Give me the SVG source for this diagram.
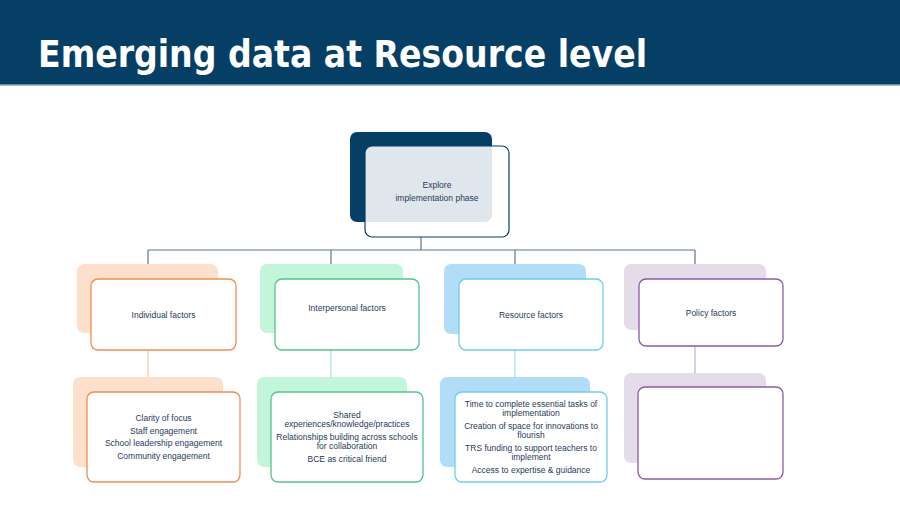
<svg xmlns="http://www.w3.org/2000/svg" width="900" height="505" viewBox="0 0 900 505">
<style>
.t{font-family:"Liberation Sans",Arial,sans-serif;font-size:8.5px;fill:#1f3b5a;text-anchor:middle}
.title{font-family:"DejaVu Sans Condensed","DejaVu Sans",sans-serif;font-stretch:condensed;font-weight:bold;font-size:37px;fill:#ffffff}
.front{fill:#ffffff;stroke-width:1.3}
.conn{stroke:#5a7893;stroke-width:1.2;fill:none}
</style>
<rect x="0" y="0" width="900" height="85" fill="#063f66"/>
<line x1="0" y1="85" x2="900" y2="85" stroke="#8aa6c0" stroke-width="1.5"/>
<text class="title" x="38" y="67" textLength="609" lengthAdjust="spacingAndGlyphs">Emerging data at Resource level</text>

<g id="connectors">
<path class="conn" d="M421 237 V250 M148 250 H695 M148 250 V265 M331 250 V265 M515 250 V265 M695 250 V265"/>
<line x1="148" y1="350" x2="148" y2="378" stroke="#f6c7a4" stroke-width="1.2"/>
<line x1="331" y1="350" x2="331" y2="378" stroke="#a6e8c8" stroke-width="1.2"/>
<line x1="515" y1="350" x2="515" y2="378" stroke="#a8def0" stroke-width="1.2"/>
<line x1="695" y1="346" x2="695" y2="374" stroke="#c4aed3" stroke-width="1.2"/>
</g>

<g id="root">
<rect x="350" y="132" width="142" height="90" rx="7" fill="#063f66"/>
<rect x="365" y="146" width="144" height="91" rx="7" fill="#ffffff" fill-opacity="0.88" stroke="#063f66" stroke-width="1.2"/>
<text class="t" x="437" y="188">Explore</text>
<text class="t" x="437" y="201">implementation phase</text>
</g>

<g id="individual">
<rect x="77" y="264" width="141" height="69" rx="7" fill="#fde0cb"/>
<rect class="front" x="91" y="279" width="145" height="71" rx="7" stroke="#f28c50"/>
<text class="t" x="163.5" y="318">Individual factors</text>
</g>

<g id="interpersonal">
<rect x="260" y="264" width="143" height="69" rx="7" fill="#c2f5da"/>
<rect class="front" x="275" y="279" width="144" height="71" rx="7" stroke="#52c48d"/>
<text class="t" x="347" y="311">Interpersonal factors</text>
</g>

<g id="resource">
<rect x="444" y="264" width="142" height="70" rx="7" fill="#b1ddf8"/>
<rect class="front" x="459" y="279" width="144" height="71" rx="7" stroke="#6bd0e6"/>
<text class="t" x="531" y="318">Resource factors</text>
</g>

<g id="policy">
<rect x="624" y="264" width="142" height="66" rx="7" fill="#e5dcea"/>
<rect class="front" x="639" y="279" width="144" height="67" rx="7" stroke="#8c5aa8"/>
<text class="t" x="711" y="316">Policy factors</text>
</g>

<g id="individual-detail">
<rect x="73" y="377" width="150" height="90" rx="7" fill="#fde0cb"/>
<rect class="front" x="87" y="392" width="153" height="90" rx="7" stroke="#f28c50"/>
<text class="t" x="163.5" y="421">Clarity of focus</text>
<text class="t" x="163.5" y="434">Staff engagement</text>
<text class="t" x="163.5" y="446">School leadership engagement</text>
<text class="t" x="163.5" y="459">Community engagement</text>
</g>

<g id="interpersonal-detail">
<rect x="257" y="377" width="150" height="90" rx="7" fill="#c2f5da"/>
<rect class="front" x="271" y="392" width="152" height="90" rx="7" stroke="#52c48d"/>
<text class="t" x="347" y="418">Shared</text>
<text class="t" x="347" y="427">experiences/knowledge/practices</text>
<text class="t" x="347" y="440">Relationships building across schools</text>
<text class="t" x="347" y="449">for collaboration</text>
<text class="t" x="347" y="462">BCE as critical friend</text>
</g>

<g id="resource-detail">
<rect x="440" y="377" width="150" height="90" rx="7" fill="#b1ddf8"/>
<rect class="front" x="455" y="392" width="152" height="90" rx="7" stroke="#6bd0e6"/>
<text class="t" x="531" y="407">Time to complete essential tasks of</text>
<text class="t" x="531" y="416">implementation</text>
<text class="t" x="531" y="429">Creation of space for innovations to</text>
<text class="t" x="531" y="438">flourish</text>
<text class="t" x="531" y="451">TRS funding to support teachers to</text>
<text class="t" x="531" y="460">implement</text>
<text class="t" x="531" y="473">Access to expertise &amp; guidance</text>
</g>

<g id="policy-detail">
<rect x="624" y="373" width="142" height="90" rx="7" fill="#e5dcea"/>
<rect class="front" x="638" y="387" width="145" height="92" rx="7" stroke="#8c5aa8"/>
</g>
</svg>
